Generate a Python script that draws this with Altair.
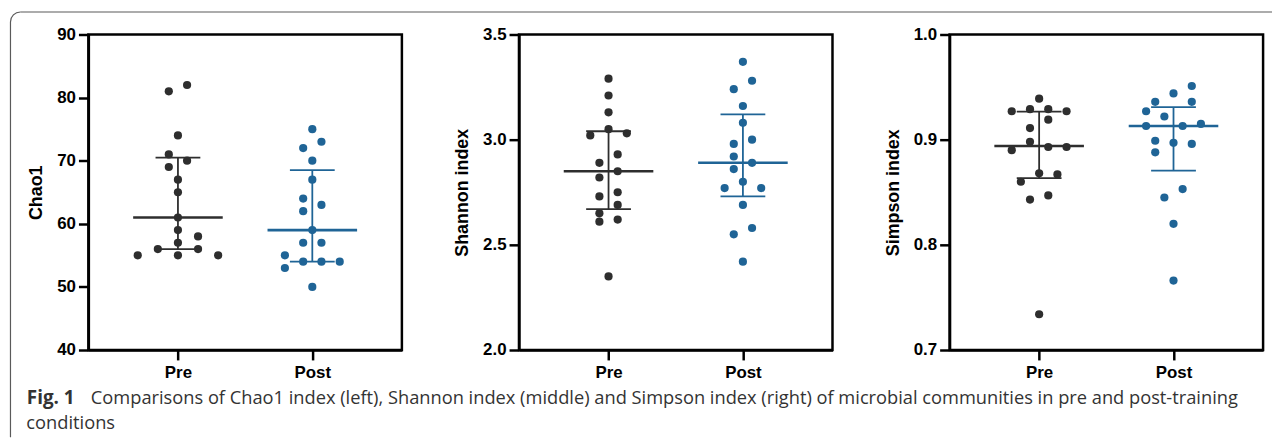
import math
import altair as alt
import pandas as pd

# ---------------- data ----------------
groups = ["Pre", "Post"]

chao_pre = [82, 81, 74, 71, 70, 69, 67, 65, 61, 59, 58, 57, 56, 56, 55, 55, 55]
chao_pre_slot = [1, -1, 0, -1, 1, -1, 0, 0, 0, 0, 2.2, 0, -2.2, 2.2, -4.4, 0, 4.4]
chao_post = [75, 73, 72, 70, 67, 64, 63, 62, 59, 57, 57, 55, 54, 54, 54, 53, 50]
chao_post_slot = [0, 1, -1, 0, 0, -1, 1, -1, 0, -1, 1, -3, -1, 1, 3, -3, 0]
chao_median = [61, 59]
chao_q1 = [56, 54]
chao_q3 = [70.5, 68.5]

shannon_pre = [3.29, 3.21, 3.13, 3.05, 3.03, 3.02, 2.93, 2.89, 2.85, 2.82, 2.75, 2.73, 2.69, 2.65, 2.62, 2.61, 2.35]
shannon_pre_slot = [0, 0, 0, 0, 2, -2, 1, -1, 1, -1, 1, -1, 1, -1, 1, -1, 0]
shannon_post = [3.37, 3.28, 3.24, 3.16, 3.08, 3.00, 2.98, 2.92, 2.89, 2.86, 2.80, 2.77, 2.77, 2.69, 2.58, 2.55, 2.42]
shannon_post_slot = [0, 1, -1, 0, 0, 1, -1, -1, 1, -1, 0, -2, 2, 0, 1, -1, 0]
shannon_median = [2.85, 2.89]
shannon_q1 = [2.67, 2.73]
shannon_q3 = [3.04, 3.12]

simpson_pre = [0.939, 0.929, 0.929, 0.927, 0.927, 0.919, 0.911, 0.898, 0.893, 0.893, 0.890, 0.868, 0.867, 0.860, 0.847, 0.843, 0.734]
simpson_pre_slot = [0, -1, 1, -3, 3, 1, -1, -1, 1, 3, -3, 0, 2, -2, 1, -1, 0]
simpson_post = [0.951, 0.944, 0.936, 0.936, 0.927, 0.922, 0.913, 0.913, 0.915, 0.899, 0.897, 0.896, 0.888, 0.853, 0.845, 0.820, 0.766]
simpson_post_slot = [2, 0, -2, 2, -3, -1, -3, 1, 3, -2, 0, 2, -2, 1, -1, 0, 0]
simpson_median = [0.894, 0.913]
simpson_q1 = [0.8635, 0.8705]
simpson_q3 = [0.9266, 0.931]

caption_bold = "Fig. 1"
caption_line1 = ("Comparisons of Chao1 index (left), Shannon index (middle) and Simpson index (right) "
                 "of microbial communities in pre and post-training")
caption_line2 = "conditions"

# ---------------- styling ----------------
DARK = "#2e2e2e"
BLUE = "#1f6496"
W, H = 316, 318
SLOT = 0.068          # horizontal spacing unit of the scatter columns (x units)
XDOM = [-2 / 3, 5 / 3]
LABEL_FONT = "Liberation Sans"
CAP_FONT = "Open Sans"
CAP_SIZE = 18.4


def panel(pre, pre_slot, post, post_slot, med, q1, q3, title, domain, ticks, fmt):
    rows = []
    for gi, (vals, slots) in enumerate([(pre, pre_slot), (post, post_slot)]):
        for v, s in zip(vals, slots):
            rows.append({"group": groups[gi], "pos": gi, "slot": s, "value": v})
    pts = pd.DataFrame(rows)
    summ = pd.DataFrame({"group": groups, "pos": [0, 1], "med": med, "q1": q1, "q3": q3})

    color = alt.Color("group:N", scale=alt.Scale(domain=groups, range=[DARK, BLUE]), legend=None)
    xaxis = alt.Axis(values=[0, 1], labelExpr="datum.value == 0 ? 'Pre' : 'Post'",
                     title=None, grid=False, labelFontSize=17, labelPadding=5)
    xs = alt.Scale(domain=XDOM, nice=False, zero=False)
    ys = alt.Scale(domain=domain, nice=False, zero=False)
    yaxis = alt.Axis(values=ticks, format=fmt, title=title, grid=False)

    points = alt.Chart(pts).transform_calculate(
        xx=f"datum.pos + datum.slot * {SLOT}"
    ).mark_circle(size=68, opacity=1).encode(
        x=alt.X("xx:Q", scale=xs, axis=xaxis),
        y=alt.Y("value:Q", scale=ys, axis=yaxis),
        color=color,
    )
    base = alt.Chart(summ).transform_calculate(
        mlo="datum.pos - 1/3", mhi="datum.pos + 1/3",
        clo="datum.pos - 1/6", chi="datum.pos + 1/6",
    )
    median = base.mark_rule(strokeWidth=2.6).encode(
        x=alt.X("mlo:Q", scale=xs), x2="mhi:Q", y=alt.Y("med:Q", scale=ys), color=color)
    whisk = base.mark_rule(strokeWidth=1.8).encode(
        x=alt.X("pos:Q", scale=xs), y=alt.Y("q1:Q", scale=ys), y2="q3:Q", color=color)
    cap1 = base.mark_rule(strokeWidth=1.8).encode(
        x=alt.X("clo:Q", scale=xs), x2="chi:Q", y=alt.Y("q1:Q", scale=ys), color=color)
    cap3 = base.mark_rule(strokeWidth=1.8).encode(
        x=alt.X("clo:Q", scale=xs), x2="chi:Q", y=alt.Y("q3:Q", scale=ys), color=color)
    return [points, whisk, cap1, cap3, median]


one = pd.DataFrame({"a": [0]})
FRAME = "#5a5a5a"
# decorations (figure frame + caption) positioned relative to the first panel's plot origin
frame_top = alt.Chart(one).mark_rule(color=FRAME, strokeWidth=1.2).encode(
    x=alt.value(-68.5), x2=alt.value(1193), y=alt.value(-22.7))
frame_left = alt.Chart(one).mark_rule(color=FRAME, strokeWidth=1.2).encode(
    x=alt.value(-78.5), y=alt.value(-12.7), y2=alt.value(406))
frame_corner = alt.Chart(one).mark_arc(color=FRAME).encode(
    x=alt.value(-68.5), y=alt.value(-12.7),
    theta=alt.value(3 * math.pi / 2), theta2=alt.value(2 * math.pi),
    radius=alt.value(10.6), radius2=alt.value(9.4))
cap_b = alt.Chart(one).mark_text(align="left", baseline="alphabetic", font=CAP_FONT,
                                 fontWeight="bold", fontSize=19, color="#333333").encode(
    x=alt.value(-62), y=alt.value(372.5), text=alt.value(caption_bold))
cap_1 = alt.Chart(one).mark_text(align="left", baseline="alphabetic", font=CAP_FONT,
                                 fontSize=CAP_SIZE, color="#333333").encode(
    x=alt.value(2.5), y=alt.value(372.5), text=alt.value(caption_line1))
cap_2 = alt.Chart(one).mark_text(align="left", baseline="alphabetic", font=CAP_FONT,
                                 fontSize=CAP_SIZE, color="#333333").encode(
    x=alt.value(-62.5), y=alt.value(398), text=alt.value(caption_line2))

p1 = alt.layer(*panel(chao_pre, chao_pre_slot, chao_post, chao_post_slot,
                      chao_median, chao_q1, chao_q3, "Chao1", [40, 90],
                      [40, 50, 60, 70, 80, 90], "d"),
               frame_top, frame_left, frame_corner, cap_b, cap_1, cap_2
               ).properties(width=W, height=H)
p2 = alt.layer(*panel(shannon_pre, shannon_pre_slot, shannon_post, shannon_post_slot,
                      shannon_median, shannon_q1, shannon_q3, "Shannon index", [2.0, 3.5],
                      [2.0, 2.5, 3.0, 3.5], ".1f")).properties(width=W, height=H)
p3 = alt.layer(*panel(simpson_pre, simpson_pre_slot, simpson_post, simpson_post_slot,
                      simpson_median, simpson_q1, simpson_q3, "Simpson index", [0.7, 1.0],
                      [0.7, 0.8, 0.9, 1.0], ".1f")).properties(width=W, height=H)

chart = alt.hconcat(p1, p2, p3, spacing=118, bounds="flush").resolve_scale(
    x="independent", y="independent"
).properties(
    padding={"left": 0, "top": 0, "right": 0, "bottom": 0}
).configure_view(
    stroke="black", strokeWidth=2.5
).configure_axis(
    domainColor="black", domainWidth=2.5, tickColor="black", tickWidth=2.5, tickSize=10,
    labelFont=LABEL_FONT, labelFontWeight="bold", labelFontSize=17, labelColor="black",
    labelPadding=3,
    titleFont=LABEL_FONT, titleFontWeight="bold", titleFontSize=18, titleColor="black",
    titlePadding=11,
)

chart.save("out.html", embed_options={"renderer": "svg", "actions": False})
